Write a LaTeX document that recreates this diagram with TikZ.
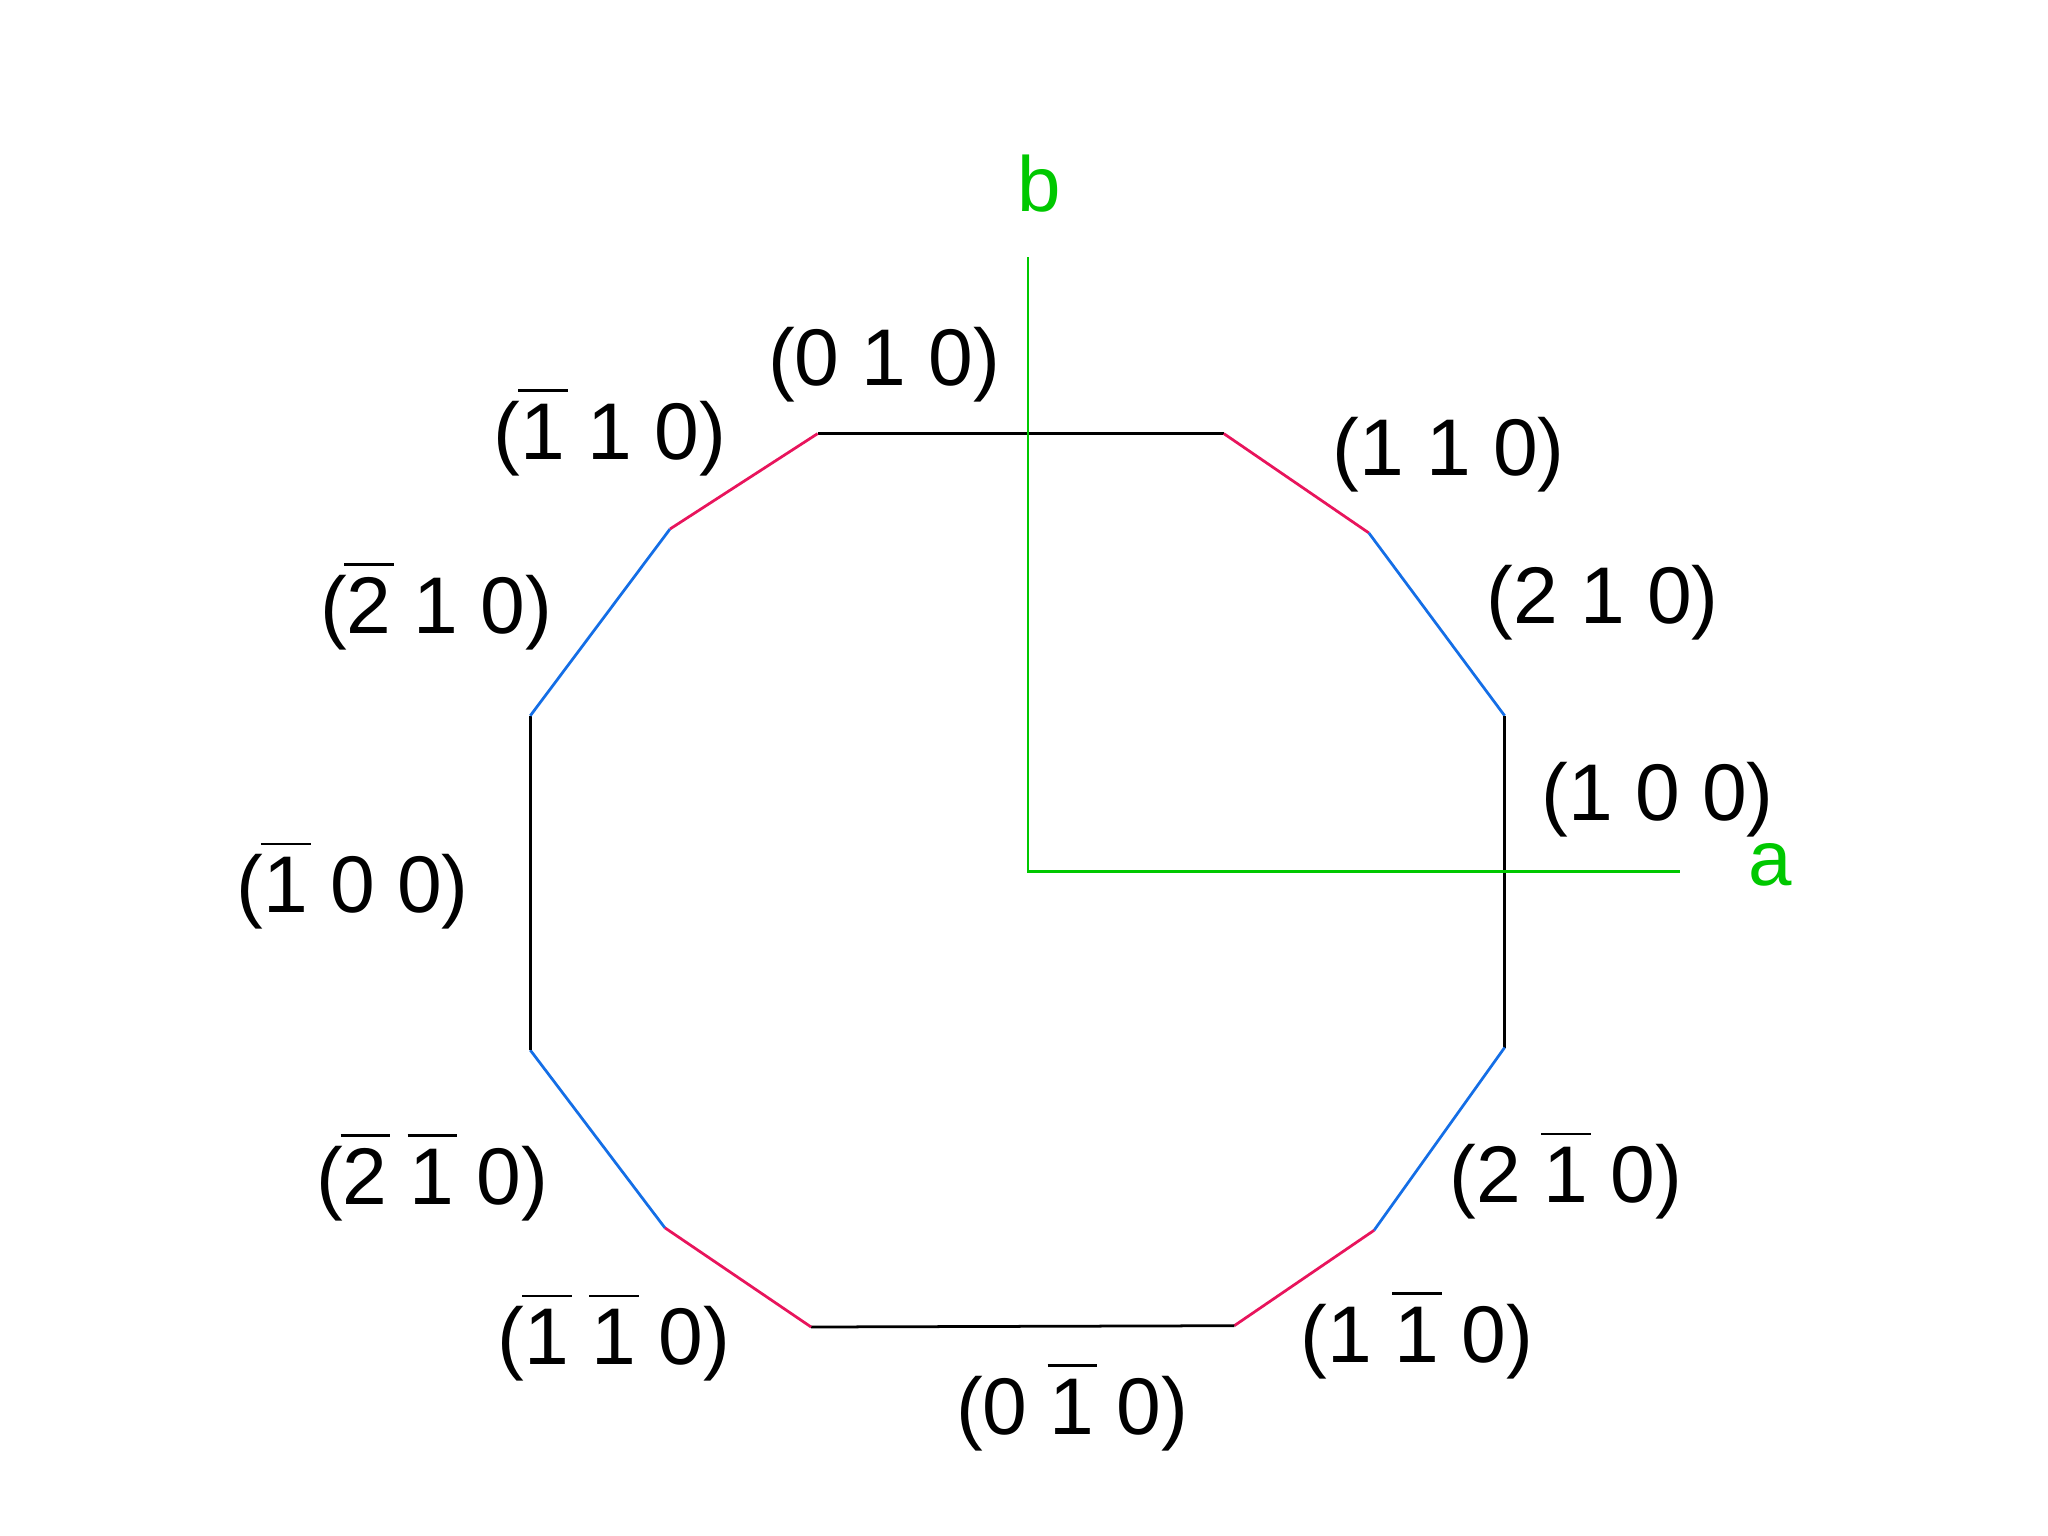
\documentclass[tikz,border=0pt]{standalone}
\usepackage{fontspec}
\setmainfont{Liberation Sans}
\usepackage{tikz}
\usetikzlibrary{positioning}
\usepackage{xcolor}

\definecolor{facered}{RGB}{232,20,92}
\definecolor{faceblue}{RGB}{20,110,230}
\definecolor{axisgreen}{RGB}{0,200,0}
% negative index: bar set well above the digit
\newcommand{\nb}[1]{\makebox[0pt][l]{\hspace{-0.03em}\rule[0.84em]{0.62em}{0.6pt}}#1}

\begin{document}
\begin{tikzpicture}[x=0.01cm, y=-0.01cm,
  face/.style={font=\fontsize{17.5}{20}\selectfont, anchor=base, inner sep=0pt},
  axislbl/.style={font=\fontsize{17}{20}\selectfont, text=axisgreen, anchor=base, inner sep=0pt},
  edge/.style={line width=0.6pt}]
\useasboundingbox (0,0) rectangle (1568,1176);

% corners of the section
\coordinate (v1) at (626,332);
\coordinate (v2) at (937,332);
\coordinate (v3) at (1048,408);
\coordinate (v4) at (1152,548);
\coordinate (v5) at (1152,802);
\coordinate (v6) at (1052,942);
\coordinate (v7) at (945,1015);
\coordinate (v8) at (621,1016);
\coordinate (v9) at (509,940);
\coordinate (v10) at (406,804);
\coordinate (v11) at (406,548);
\coordinate (v12) at (513,405);

\foreach \a/\b/\c in {v1/v2/black, v2/v3/facered, v3/v4/faceblue, v4/v5/black,
    v5/v6/faceblue, v6/v7/facered, v7/v8/black, v8/v9/facered,
    v9/v10/faceblue, v10/v11/black, v11/v12/faceblue, v12/v1/facered} {
  \draw[edge, \c] (\a) -- (\b);
}

% axes
\coordinate (O) at (787,667);
\coordinate (btip) at (787,197);
\coordinate (atip) at (1286,667);
\draw[edge, axisgreen] (btip) -- (O) -- (atip);
\node[axislbl] (b) at (796,162) {b};
\node[axislbl] (a) at (1355,678) {a};

% face labels
\node[face] (f010) at (677,295) {(0 1 0)};
\node[face] (fm110) at (467,352) {(\nb{1} 1 0)};
\node[face] (f110) at (1109,364) {(1 1 0)};
\node[face] (fm210) at (334,485) {(\nb{2} 1 0)};
\node[face] (f210) at (1227,477) {(2 1 0)};
\node[face] (f100) at (1269,628) {(1 0 0)};
\node[face] (fm100) at (270,699) {(\nb{1} 0 0)};
\node[face] (fm2m10) at (331,922) {(\nb{2} \nb{1} 0)};
\node[face] (f2m10) at (1199,921) {(2 \nb{1} 0)};
\node[face] (fm1m10) at (470,1045) {(\nb{1} \nb{1} 0)};
\node[face] (f1m10) at (1085,1043) {(1 \nb{1} 0)};
\node[face] (f0m10) at (821,1098) {(0 \nb{1} 0)};
\end{tikzpicture}
\end{document}
